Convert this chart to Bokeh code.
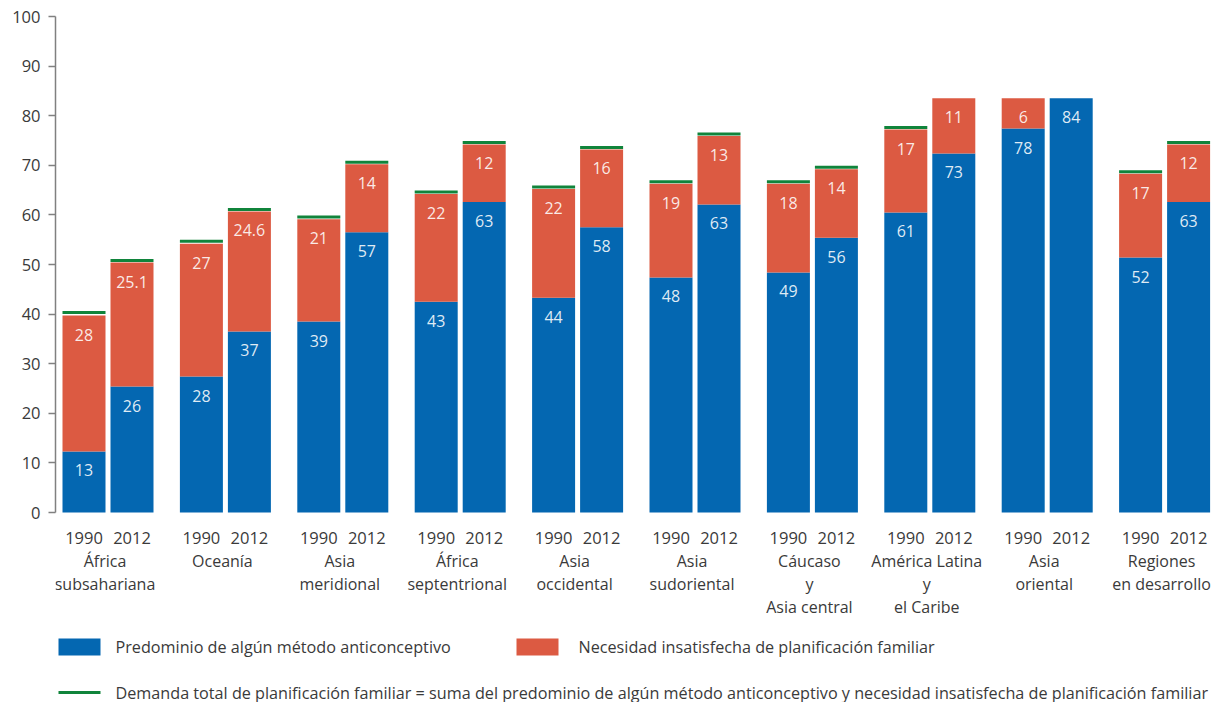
import math
from bokeh.plotting import figure
from bokeh.models import ColumnDataSource, FixedTicker, Range1d
from bokeh.core.properties import value
from bokeh.embed import file_html
from bokeh.resources import INLINE

# ---------------- data ----------------
regions = [
    ["África", "subsahariana"],
    ["Oceanía"],
    ["Asia", "meridional"],
    ["África", "septentrional"],
    ["Asia", "occidental"],
    ["Asia", "sudoriental"],
    ["Cáucaso", "y", "Asia central"],
    ["América Latina", "y", "el Caribe"],
    ["Asia", "oriental"],
    ["Regiones", "en desarrollo"],
]
years = ["1990", "2012"]

blue_1990 = [12.3, 27.4, 38.5, 42.5, 43.3, 47.4, 48.4, 60.5, 77.4, 51.4]
red_1990 = [27.4, 26.8, 20.6, 21.7, 21.9, 18.9, 17.9, 16.7, 6.1, 16.9]
total_1990 = [40.3, 54.7, 59.6, 64.6, 65.6, 66.7, 66.7, 77.6, float("nan"), 68.7]

blue_2012 = [25.4, 36.5, 56.5, 62.6, 57.5, 62.1, 55.4, 72.4, 83.5, 62.6]
red_2012 = [25.0, 24.2, 13.7, 11.6, 15.7, 13.8, 13.8, 11.1, 0.0, 11.6]
total_2012 = [50.8, 61.1, 70.6, 74.6, 73.6, 76.3, 69.6, float("nan"), float("nan"), 74.6]

blue_lbl_1990 = ["13", "28", "39", "43", "44", "48", "49", "61", "78", "52"]
red_lbl_1990 = ["28", "27", "21", "22", "22", "19", "18", "17", "6", "17"]
blue_lbl_2012 = ["26", "37", "57", "63", "58", "63", "56", "73", "84", "63"]
red_lbl_2012 = ["25.1", "24.6", "14", "12", "16", "13", "14", "11", "", "12"]

y_ticks = list(range(0, 101, 10))

legend_labels = [
    "Predominio de algún método anticonceptivo",
    "Necesidad insatisfecha de planificación familiar",
    "Demanda total de planificación familiar = suma del predominio de  algún método anticonceptivo y necesidad insatisfecha de planificación familiar",
]

# ---------------- styling / layout ----------------
BLUE = "#0467B1"
RED = "#DC5A42"
GREEN = "#10843B"
TXT = "#3a3a3a"
FONT = "Open Sans"

W, H = 1213, 702
LEFT, TOP = 55, 16
PX_Y = 4.96          # pixels per y unit
PX_X = 117.4         # pixels per group
X0 = 0.5 - 52.5 / PX_X
frame_w = W - LEFT
frame_h = H - TOP
Y_END = 100.0
Y_START = Y_END - frame_h / PX_Y
X_END = X0 + frame_w / PX_X

def xv(page_x):
    return X0 + (page_x - 55) / PX_X

def yv(page_y):
    return (512 - page_y) / PX_Y

OFF = 24 / PX_X
BW = 43 / PX_X

p = figure(width=W, height=H, output_backend="svg", toolbar_location=None,
           x_axis_type=None, x_range=Range1d(X0, X_END), y_range=Range1d(Y_START, Y_END),
           min_border_left=LEFT, min_border_right=0, min_border_top=TOP, min_border_bottom=0)
p.outline_line_color = None
p.grid.visible = False
p.background_fill_color = "white"

# bars
xc = [i + 0.5 for i in range(len(regions))]
for sign, blue, red, tot, bl, rl in [
        (-1, blue_1990, red_1990, total_1990, blue_lbl_1990, red_lbl_1990),
        (1, blue_2012, red_2012, total_2012, blue_lbl_2012, red_lbl_2012)]:
    xs = [c + sign * OFF for c in xc]
    src = ColumnDataSource(dict(
        x=xs, blue=blue, top=[b + r for b, r in zip(blue, red)],
        zero=[0] * len(xs), bl=bl, rl=rl,
        tot=tot, x0=[x - BW / 2 for x in xs], x1=[x + BW / 2 for x in xs]))
    p.vbar(x="x", bottom="zero", top="blue", width=BW, source=src,
           fill_color=BLUE, line_color=None)
    p.vbar(x="x", bottom="blue", top="top", width=BW, source=src,
           fill_color=RED, line_color=None)
    p.segment(x0="x0", x1="x1", y0="tot", y1="tot", source=src,
              line_color=GREEN, line_width=3)
    p.text(x="x", y="blue", text="bl", source=src, y_offset=19,
           text_align="center", text_baseline="middle", text_color="white",
           text_alpha=0.88, text_font=value(FONT), text_font_size="16px")
    p.text(x="x", y="top", text="rl", source=src, y_offset=19,
           text_align="center", text_baseline="middle", text_color="white",
           text_alpha=0.88, text_font=value(FONT), text_font_size="16px")

# year labels
yx, yt = [], []
for c in xc:
    for k, yr in enumerate(years):
        yx.append(c + (-1 if k == 0 else 1) * OFF)
        yt.append(yr)
p.text(x=yx, y=[yv(537)] * len(yx), text=yt, text_align="center",
       text_baseline="middle", text_color=TXT, text_font=value(FONT),
       text_font_size="16.5px")

# region labels
rx, ry, rt = [], [], []
for c, lines in zip(xc, regions):
    for j, ln in enumerate(lines):
        rx.append(c)
        ry.append(yv(560 + 23 * j))
        rt.append(ln)
p.text(x=rx, y=ry, text=rt, text_align="center", text_baseline="middle",
       x_offset=-3, text_color=TXT, text_font=value(FONT),
       text_font_size="16px")

# y axis
ax = p.yaxis[0]
ax.bounds = (0, 100)
ax.ticker = FixedTicker(ticks=y_ticks)
ax.axis_line_color = "#808080"
ax.axis_line_width = 1.5
ax.major_tick_line_color = "#808080"
ax.major_tick_line_width = 1.5
ax.major_tick_out = 7
ax.major_tick_in = 0
ax.minor_tick_line_color = None
ax.major_label_standoff = 8
ax.major_label_text_font = FONT
ax.major_label_text_font_size = "16.5px"
ax.major_label_text_color = TXT

# legend (custom)
p.rect(x=[xv(79), xv(537)], y=[yv(646.5)] * 2, width=[42 / PX_X] * 2,
       height=[17 / PX_Y] * 2, fill_color=[BLUE, RED], line_color=None)
p.segment(x0=[xv(58)], x1=[xv(100)], y0=[yv(692)], y1=[yv(692)],
          line_color=GREEN, line_width=3)
p.text(x=[xv(115), xv(578), xv(115)], y=[yv(646.5), yv(646.5), yv(692)],
       text=legend_labels, text_align="left", text_baseline="middle",
       text_color=TXT, text_font=value(FONT), text_font_size="16.2px")

open("out.html", "w").write(file_html(p, INLINE))
